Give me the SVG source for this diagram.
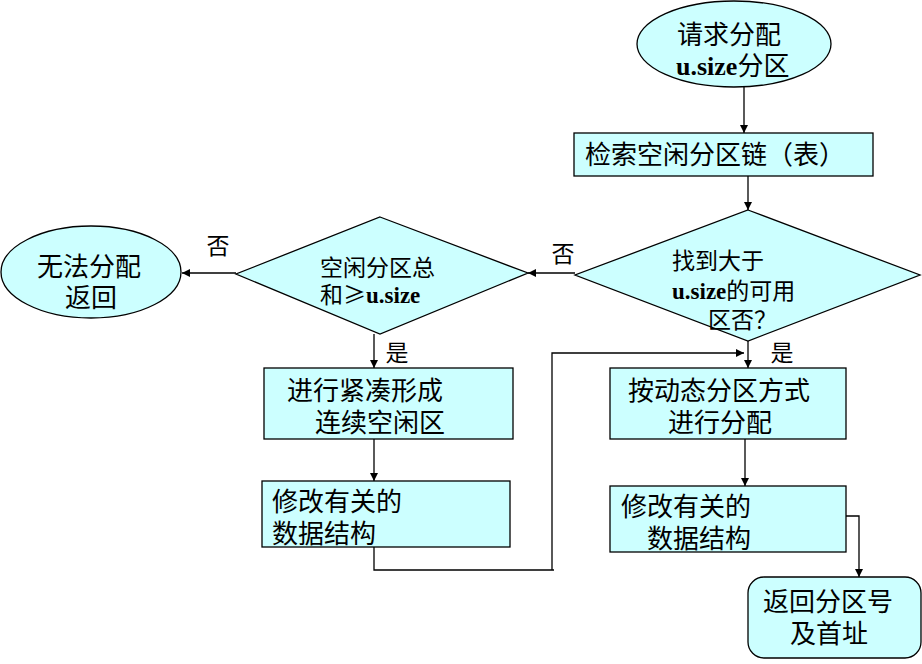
<svg xmlns="http://www.w3.org/2000/svg" width="922" height="664" viewBox="0 0 922 664">
<style>
.n{fill:#CCFFFF;stroke:#000;stroke-width:1.3}
.t{font-family:"Noto Sans CJK SC","Liberation Serif",sans-serif;font-size:26px;fill:#000}
.s{font-size:23px}
.u{font-family:"Liberation Serif",serif;font-weight:bold}
.c{fill:none;stroke:#000;stroke-width:1.3}
.l{font-family:"Noto Sans CJK SC",sans-serif;font-size:23px;fill:#000}
</style>
<defs>
<marker id="a" viewBox="0 0 10 10" refX="10" refY="5" markerWidth="8" markerHeight="8" markerUnits="userSpaceOnUse" orient="auto">
<path d="M0,0 L10,5 L0,10 z" fill="#000"/>
</marker>
</defs>
<rect width="922" height="664" fill="#fff"/>
<g id="connectors">
<line class="c" x1="744" y1="87" x2="744" y2="133" marker-end="url(#a)"/>
<line class="c" x1="748" y1="176" x2="748" y2="210" marker-end="url(#a)"/>
<line class="c" x1="575" y1="273" x2="528" y2="273" marker-end="url(#a)"/>
<line class="c" x1="236" y1="273" x2="182" y2="273" marker-end="url(#a)"/>
<line class="c" x1="374" y1="334" x2="374" y2="368" marker-end="url(#a)"/>
<line class="c" x1="748" y1="341" x2="748" y2="368" marker-end="url(#a)"/>
<line class="c" x1="374" y1="439" x2="374" y2="481" marker-end="url(#a)"/>
<line class="c" x1="745" y1="439" x2="745" y2="486" marker-end="url(#a)"/>
<path class="c" d="M374,547 V570 H554 M552,570 V353 H744" marker-end="url(#a)"/>
<path class="c" d="M846,516 H859 V577" marker-end="url(#a)"/>
<text class="l" x="563" y="262" text-anchor="middle">否</text>
<text class="l" x="218" y="254" text-anchor="middle">否</text>
<text class="l" x="397" y="361" text-anchor="middle">是</text>
<text class="l" x="782" y="361" text-anchor="middle">是</text>
</g>
<g id="start">
<ellipse class="n" cx="734" cy="44" rx="97" ry="43"/>
<text class="t"><tspan x="677" y="44">请求分配</tspan><tspan x="676" y="75"><tspan class="u">u.size</tspan>分区</tspan></text>
</g>
<g id="search">
<rect class="n" x="574" y="133" width="299" height="43"/>
<text class="t" x="585" y="164">检索空闲分区链（表）</text>
</g>
<g id="found">
<polygon class="n" points="748,210 920,275 748,341 575,275"/>
<text class="t s"><tspan x="672" y="269">找到大于</tspan><tspan x="672" y="299"><tspan class="u">u.size</tspan>的可用</tspan><tspan x="708" y="328">区否？</tspan></text>
</g>
<g id="total">
<polygon class="n" points="380,217 528,273 380,334 236,274"/>
<text class="t s"><tspan x="320" y="276">空闲分区总</tspan><tspan x="320" y="303">和≥<tspan class="u">u.size</tspan></tspan></text>
</g>
<g id="fail">
<ellipse class="n" cx="91" cy="272" rx="90" ry="46"/>
<text class="t"><tspan x="37" y="276">无法分配</tspan><tspan x="65" y="307">返回</tspan></text>
</g>
<g id="compact">
<rect class="n" x="264" y="368" width="249" height="71"/>
<text class="t"><tspan x="287" y="400">进行紧凑形成</tspan><tspan x="315" y="432">连续空闲区</tspan></text>
</g>
<g id="modify-left">
<rect class="n" x="262" y="481" width="248" height="66"/>
<text class="t"><tspan x="272" y="511">修改有关的</tspan><tspan x="272" y="543">数据结构</tspan></text>
</g>
<g id="allocate">
<rect class="n" x="610" y="368" width="236" height="71"/>
<text class="t"><tspan x="628" y="400">按动态分区方式</tspan><tspan x="668" y="432">进行分配</tspan></text>
</g>
<g id="modify-right">
<rect class="n" x="610" y="486" width="236" height="66"/>
<text class="t"><tspan x="621" y="516">修改有关的</tspan><tspan x="647" y="548">数据结构</tspan></text>
</g>
<g id="return">
<rect class="n" x="748" y="577" width="173" height="81" rx="16"/>
<text class="t"><tspan x="763" y="611">返回分区号</tspan><tspan x="790" y="643">及首址</tspan></text>
</g>
</svg>
